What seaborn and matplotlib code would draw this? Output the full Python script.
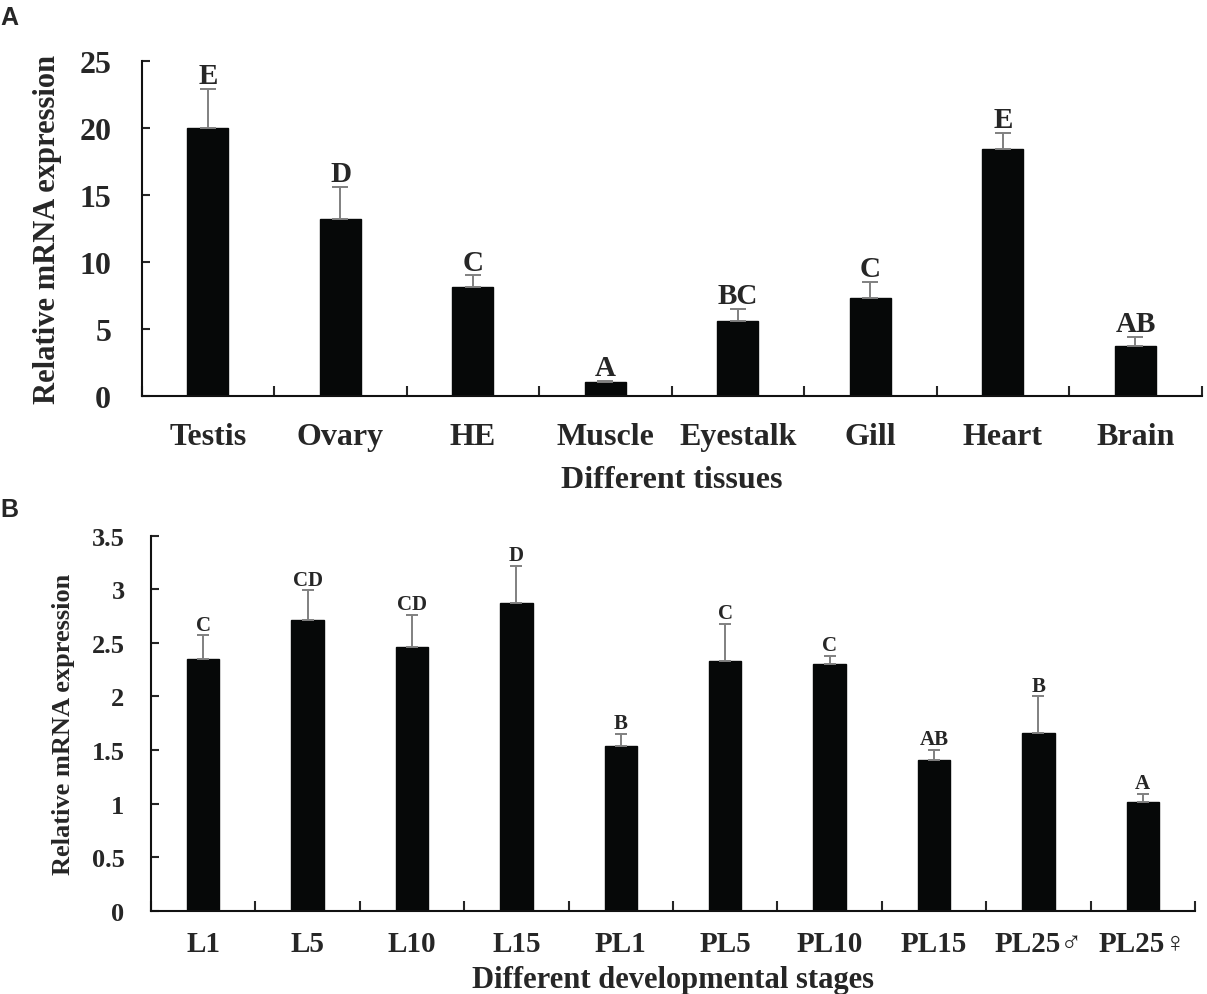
import numpy as np
import pandas as pd
import matplotlib
matplotlib.use('Agg')
import matplotlib.pyplot as plt
from matplotlib.ticker import FormatStrFormatter
import seaborn as sns

# ── data: panel A (tissues) ──
tissues = ['Testis', 'Ovary', 'HE', 'Muscle', 'Eyestalk', 'Gill', 'Heart', 'Brain']
tissue_vals = [20.0, 13.2, 8.1, 1.0, 5.6, 7.3, 18.4, 3.7]
tissue_err = [2.9, 2.4, 0.9, 0.1, 0.9, 1.2, 1.2, 0.7]
tissue_sig = ['E', 'D', 'C', 'A', 'BC', 'C', 'E', 'AB']

# ── data: panel B (developmental stages) ──
stages = ['L1', 'L5', 'L10', 'L15', 'PL1', 'PL5', 'PL10', 'PL15', 'PL25♂', 'PL25♀']
stage_vals = [2.35, 2.71, 2.46, 2.87, 1.54, 2.33, 2.30, 1.41, 1.66, 1.01]
stage_err = [0.22, 0.28, 0.30, 0.35, 0.11, 0.35, 0.08, 0.09, 0.34, 0.08]
stage_sig = ['C', 'CD', 'CD', 'D', 'B', 'C', 'C', 'AB', 'B', 'A']

sns.set_style('ticks')
plt.rcParams['font.family'] = ['Liberation Serif', 'DejaVu Serif']
plt.rcParams['font.weight'] = 'bold'

BAR = '#060808'
ERR = '#808080'

fig = plt.figure(figsize=(12.07, 9.95), dpi=100)
axA = fig.add_axes([0.1174, 0.6013, 0.8782, 0.3367])
axB = fig.add_axes([0.1251, 0.0837, 0.8649, 0.3769])


def draw_panel(ax, cats, vals, errs, sig, ymax, ystep, fs_tick, fs_xtick, fs_sig,
               capsize, ytick_pad, xtick_pad):
    df = pd.DataFrame({'cat': cats, 'val': vals})
    sns.barplot(data=df, x='cat', y='val', color=BAR, width=0.31,
                saturation=1, errorbar=None, ax=ax, edgecolor=BAR)
    n = len(cats)
    x = np.arange(n)
    ax.errorbar(x, vals, yerr=[np.zeros(n), errs], fmt='none', ecolor=ERR,
                elinewidth=1.4, capsize=capsize, capthick=1.4, zorder=1)
    for xi, v, e, s in zip(x, vals, errs, sig):
        ax.annotate(s, (xi, v + e), xytext=(0, 4), textcoords='offset points',
                    ha='center', va='baseline', fontsize=fs_sig, fontweight='bold')
    ax.set_xlim(-0.5, n - 0.5)
    ax.set_ylim(0, ymax)
    ax.set_yticks(np.arange(0, ymax + ystep / 2, ystep))
    ax.yaxis.set_major_formatter(FormatStrFormatter('%g'))
    ax.set_xticks(np.arange(n + 1) - 0.5, minor=True)
    ax.tick_params(axis='x', which='major', length=0, labelsize=fs_xtick, pad=xtick_pad)
    ax.tick_params(axis='x', which='minor', direction='in', length=7, width=1.5)
    ax.tick_params(axis='y', direction='in', length=6, width=1.5,
                   labelsize=fs_tick, pad=ytick_pad)
    for sp in ['top', 'right']:
        ax.spines[sp].set_visible(False)
    for sp in ['left', 'bottom']:
        ax.spines[sp].set_linewidth(1.5)
        ax.spines[sp].set_color('#111111')
    for lbl in ax.get_xticklabels() + ax.get_yticklabels():
        lbl.set_fontweight('bold')


draw_panel(axA, tissues, tissue_vals, tissue_err, tissue_sig, 25, 5,
           23, 23, 21, 5.8, 22, 19)
axA.set_xlabel('Different tissues', fontsize=23, fontweight='bold', labelpad=10)
axA.set_ylabel('Relative mRNA expression', fontsize=22, fontweight='bold', labelpad=12)

draw_panel(axB, stages, stage_vals, stage_err, stage_sig, 3.5, 0.5,
           19, 21, 15, 4.6, 19, 14)
axB.set_xlabel('Different developmental stages', fontsize=22, fontweight='bold', labelpad=6)
axB.set_ylabel('Relative mRNA expression', fontsize=19, fontweight='bold', labelpad=12)

fig.text(0.0, 0.982, 'A', fontsize=18, fontweight='bold', family='Liberation Sans', va='center')
fig.text(0.0, 0.487, 'B', fontsize=18, fontweight='bold', family='Liberation Sans', va='center')

fig.savefig('out.png', dpi=100)
plt.close(fig)
